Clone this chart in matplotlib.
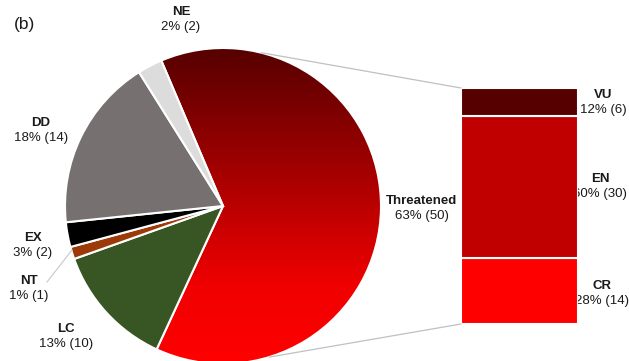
import numpy as np
import matplotlib
matplotlib.use("Agg")
import matplotlib.pyplot as plt
from matplotlib.colors import LinearSegmentedColormap
from matplotlib.patches import ConnectionPatch

plt.rcParams['font.family'] = ['Liberation Sans', 'DejaVu Sans']

# IUCN categories (pie, clockwise from the threatened slice)
pie_labels = ['Threatened', 'LC', 'NT', 'EX', 'DD', 'NE']
pie_counts = [50, 10, 1, 2, 14, 2]
pie_pcts = ['63%', '13%', '1%', '3%', '18%', '2%']
pie_colors = ['none', '#375623', '#9c3a0a', '#000000', '#767070', '#dcdcdc']

# breakdown of threatened species (bar, bottom to top)
bar_labels = ['CR', 'EN', 'VU']
bar_counts = [14, 30, 6]
bar_pcts = ['28%', '60%', '12%']
bar_colors = ['#ff0000', '#c00000', '#560000']

W, H = 629, 361
txt_col = '#1a1a1a'

fig = plt.figure(figsize=(W / 100, H / 100), dpi=100)
ax = fig.add_axes([0, 0, 1, 1])

cx, cy, r = 223, H - 206, 158
wedges, _ = ax.pie(pie_counts, colors=pie_colors, startangle=113, counterclock=False,
                   center=(cx, cy), radius=r,
                   wedgeprops=dict(edgecolor='white', linewidth=1.5))
ax.set_xlim(0, W)
ax.set_ylim(0, H)
ax.set_aspect('equal')
ax.axis('off')

# vertical red gradient clipped to the threatened wedge
grad_cmap = LinearSegmentedColormap.from_list(
    'thr', [(0.0, '#ff0000'), (0.25, '#f00000'), (0.55, '#b00000'), (1.0, '#560000')])
grad = np.linspace(0, 1, 256).reshape(-1, 1)
img = ax.imshow(grad, cmap=grad_cmap, origin='lower', aspect='auto',
                extent=(cx - r, cx + r, cy - r, cy + r), zorder=0.5)
img.set_clip_path(wedges[0])
for w in wedges:
    w.set_zorder(1)
ax.set_xlim(0, W)
ax.set_ylim(0, H)


def label(x, y, name, value, ha='center'):
    ax.text(x, H - y + 7, name, ha=ha, va='center', fontsize=9.5, fontweight='bold', color=txt_col)
    ax.text(x, H - y - 8, value, ha=ha, va='center', fontsize=9.5, color=txt_col)


pie_pos = {'Threatened': (422, 208), 'LC': (66, 336), 'NT': (29, 288),
           'EX': (33, 245), 'DD': (41, 130), 'NE': (181, 19)}
for name, n, p in zip(pie_labels, pie_counts, pie_pcts):
    x, y = pie_pos[name]
    label(x, y, name, f'{p} ({n})')

# leader line for NT
ax.plot([47, 72], [H - 282, H - 250], color='#c8c8c8', lw=0.8, zorder=2)

ax.text(14, H - 24, '(b)', fontsize=12.5, va='center', color=txt_col)

# stacked bar of threatened categories
bx0, by0, bw, bh = 461, 324, 117, 236
ax2 = fig.add_axes([bx0 / W, (H - by0) / H, bw / W, bh / H])
bottom = 0
for name, n, c in zip(bar_labels, bar_counts, bar_colors):
    ax2.bar(0, n, bottom=bottom, width=1, color=c, edgecolor='white', linewidth=1.5)
    bottom += n
ax2.set_xlim(-0.5, 0.5)
ax2.set_ylim(0, sum(bar_counts))
ax2.axis('off')

bar_pos = {'CR': (602, 293), 'EN': (600, 186), 'VU': (603, 102)}
for name, n, p in zip(bar_labels, bar_counts, bar_pcts):
    x, y = bar_pos[name]
    label(x, y, name, f'{p} ({n})')

# connector lines from pie to bar
for ang, yb in [(76, sum(bar_counts)), (-73, 0)]:
    a = np.deg2rad(ang)
    con = ConnectionPatch(xyA=(cx + r * np.cos(a), cy + r * np.sin(a)), coordsA=ax.transData,
                          xyB=(-0.5, yb), coordsB=ax2.transData,
                          color='#c0c0c0', lw=0.9)
    fig.add_artist(con)

fig.savefig('out.png', dpi=100)
